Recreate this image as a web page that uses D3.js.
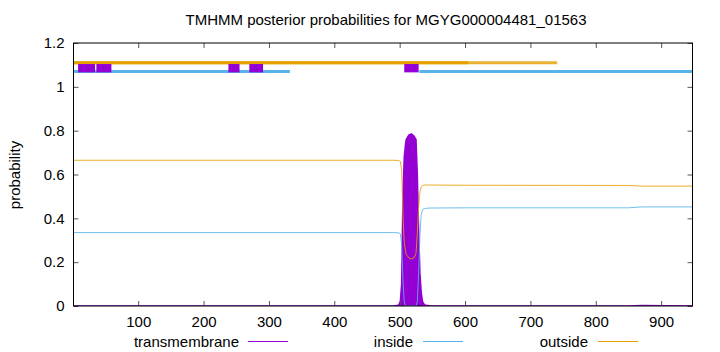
<!DOCTYPE html>
<html><head><meta charset="utf-8">
<script src="https://cdn.jsdelivr.net/npm/d3@7"></script>
<style>body{margin:0;background:#fff}svg{display:block}text{font-family:"Liberation Sans",Arial,sans-serif}</style>
</head><body><svg id="c" width="720" height="352"></svg>
<script>
const title = "TMHMM posterior probabilities for MGYG000004481_01563";
const seqLength = 948;
const xTicks = [100,200,300,400,500,600,700,800,900];
const yTicks = [0,0.2,0.4,0.6,0.8,1,1.2];
const positions = [1,490,498,501,503,505,507,509,510,514,518,522,525,527,529,531,533,535,538,545,600,850,870,948];
const transmembrane = [0,0,0.003,0.02,0.1,0.5,0.68,0.74,0.76,0.78,0.785,0.775,0.76,0.6,0.35,0.15,0.06,0.02,0.005,0.001,0,0,0.002,0];
const inside  = [0.335,0.335,0.334,0.33,0.28,0.12,0.02,0,0,0,0,0,0,0.02,0.15,0.32,0.42,0.44,0.445,0.447,0.448,0.448,0.452,0.452];
const outside = [0.665,0.665,0.664,0.66,0.62,0.42,0.29,0.25,0.235,0.22,0.215,0.22,0.24,0.33,0.45,0.52,0.545,0.55,0.552,0.552,0.551,0.55,0.547,0.547];
// predicted topology segments [start, end]
const outsideTop = [[1,741],[1,605]];
const insideTop = [[1,332],[530,948]];
const tmBoxes = [[8,34],[36,59],[238,255],[270,291],[507,529]];
const topY = {outside:1.11, inside:1.07, tm:1.085};
const colors = {transmembrane:"#9400d3", inside:"#56b4e9", outside:"#e69f00"};

const FS = 15;
const svg = d3.select("#c");
const m = {l:73.5, r:692.5, t:43, b:306};
const x = d3.scaleLinear().domain([1, seqLength]).range([m.l, m.r]);
const y = d3.scaleLinear().domain([0, 1.2]).range([m.b, m.t]);

svg.append("text").attr("x",386).attr("y",25).attr("text-anchor","middle")
  .attr("font-size",FS).text(title);
svg.append("text").attr("transform","translate(20,175) rotate(-90)")
  .attr("text-anchor","middle").attr("font-size",FS).text("probability");

const g = svg.append("g");
svg.append("clipPath").attr("id","pc").append("rect")
  .attr("x",m.l).attr("y",m.t).attr("width",m.r-m.l).attr("height",m.b-m.t);
const pg = g.append("g").attr("clip-path","url(#pc)");

const idx = d3.range(positions.length);
pg.append("path").datum(idx)
  .attr("d", d3.area().x(i=>x(positions[i])).y0(y(0)).y1(i=>y(transmembrane[i])))
  .attr("fill",colors.transmembrane).attr("stroke",colors.transmembrane).attr("stroke-width",1.5);
[["inside",inside],["outside",outside]].forEach(([k,arr])=>{
  pg.append("path").datum(idx)
    .attr("d", d3.line().x(i=>x(positions[i])).y(i=>y(arr[i])))
    .attr("fill","none").attr("stroke",colors[k]).attr("stroke-width",1).attr("opacity",0.85);
});

// top topology lines
outsideTop.forEach((s,i)=>{
  pg.append("line").attr("x1",x(s[0])).attr("x2",x(s[1])).attr("y1",y(topY.outside)).attr("y2",y(topY.outside))
    .attr("stroke",colors.outside).attr("stroke-width",3).attr("opacity", i===0?0.8:1);
});
insideTop.forEach(s=>{
  pg.append("line").attr("x1",x(s[0])).attr("x2",x(s[1])).attr("y1",y(topY.inside)).attr("y2",y(topY.inside))
    .attr("stroke",colors.inside).attr("stroke-width",3);
});
tmBoxes.forEach(s=>{
  pg.append("rect").attr("x",x(s[0])).attr("width",x(s[1])-x(s[0]))
    .attr("y",y(topY.tm+0.019)).attr("height",y(topY.tm-0.019)-y(topY.tm+0.019))
    .attr("fill",colors.transmembrane);
});

// axes
const axB = g.append("g").attr("transform",`translate(0,${m.b})`)
  .call(d3.axisBottom(x).tickValues(xTicks).tickSize(-5).tickPadding(8));
const axT = g.append("g").attr("transform",`translate(0,${m.t})`)
  .call(d3.axisTop(x).tickValues(xTicks).tickSize(-5).tickFormat(""));
const axL = g.append("g").attr("transform",`translate(${m.l},0)`)
  .call(d3.axisLeft(y).tickValues(yTicks).tickSize(-5).tickPadding(9).tickFormat(d3.format("~g")));
const axR = g.append("g").attr("transform",`translate(${m.r},0)`)
  .call(d3.axisRight(y).tickValues(yTicks).tickSize(-5).tickFormat(""));
[axB,axT,axL,axR].forEach(a=>{
  a.select(".domain").remove();
  a.selectAll("line").attr("stroke","#555");
  a.selectAll("text").attr("font-size",FS).attr("fill","#000").attr("font-family","Liberation Sans, Arial, sans-serif");
});
axB.selectAll("text").attr("dy","0.85em");
g.append("rect").attr("x",m.l).attr("y",m.t).attr("width",m.r-m.l).attr("height",m.b-m.t)
  .attr("fill","none").attr("stroke","#000").attr("stroke-width",1);

// legend
const legend = [["transmembrane",239,248],["inside",413,423],["outside",588,598]];
legend.forEach(([k,tx,lx])=>{
  svg.append("text").attr("x",tx).attr("y",346.5).attr("text-anchor","end").attr("font-size",FS).text(k);
  svg.append("line").attr("x1",lx).attr("x2",lx+40).attr("y1",341.5).attr("y2",341.5)
    .attr("stroke",colors[k]).attr("stroke-width",1);
});
</script></body></html>
